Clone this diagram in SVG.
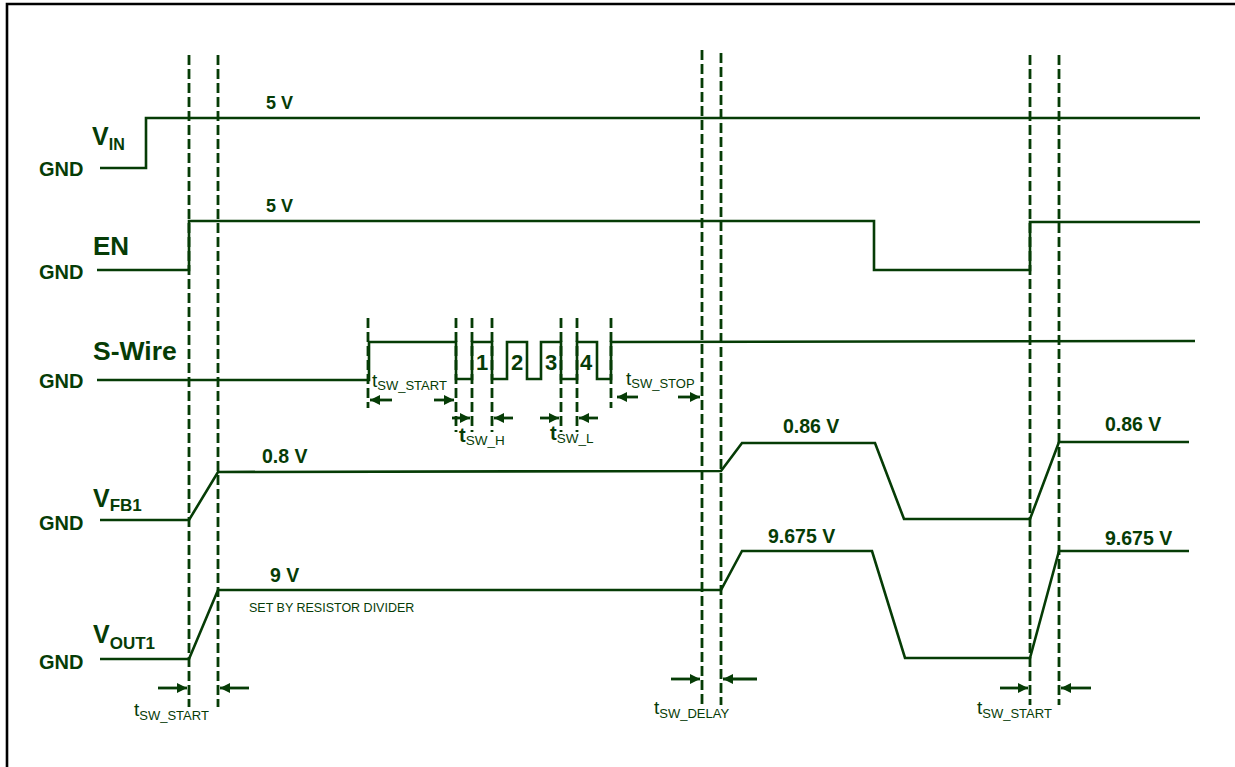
<svg xmlns="http://www.w3.org/2000/svg" width="1235" height="767" viewBox="0 0 1235 767">
<defs>
<marker id="ah" markerUnits="userSpaceOnUse" markerWidth="12" markerHeight="12" refX="10" refY="5" orient="auto">
<path d="M0,0 L10,5 L0,10 z" fill="#063c06"/>
</marker>
<style>
.sig{fill:none;stroke:#063c06;stroke-width:2.6;stroke-linejoin:miter}
.dash{fill:none;stroke:#063c06;stroke-width:2.8;stroke-dasharray:10 4}
.arr{fill:none;stroke:#063c06;stroke-width:2.8;marker-end:url(#ah)}
.lbl{font-family:"Liberation Sans",Arial,sans-serif;font-weight:bold;fill:#063c06}
.t{font-family:"Liberation Sans",Arial,sans-serif;fill:#063c06}
.gnd{font-size:20px}
.val{font-size:19.5px}
</style>
</defs>
<rect width="1235" height="767" fill="#fff"/>
<path d="M7,767 V4 H1235" fill="none" stroke="#000" stroke-width="2.6"/>

<g id="connectors">
<line class="dash" x1="189" y1="55" x2="189" y2="707"/>
<line class="dash" x1="218" y1="55" x2="218" y2="707"/>
<line class="dash" x1="702" y1="50" x2="702" y2="705"/>
<line class="dash" x1="721" y1="53" x2="721" y2="705"/>
<line class="dash" x1="1030" y1="55" x2="1030" y2="705"/>
<line class="dash" x1="1059" y1="55" x2="1059" y2="705"/>
<line class="dash" x1="368" y1="318" x2="368" y2="408"/>
<line class="dash" x1="456" y1="318" x2="456" y2="432"/>
<line class="dash" x1="472" y1="318" x2="472" y2="432"/>
<line class="dash" x1="492" y1="318" x2="492" y2="432"/>
<line class="dash" x1="561" y1="318" x2="561" y2="432"/>
<line class="dash" x1="577" y1="318" x2="577" y2="432"/>
<line class="dash" x1="611" y1="318" x2="611" y2="408"/>
<line class="arr" x1="392" y1="400" x2="370" y2="400"/>
<line class="arr" x1="434" y1="400" x2="454" y2="400"/>
<line class="arr" x1="452" y1="418" x2="470" y2="418"/>
<line class="arr" x1="513" y1="418" x2="494" y2="418"/>
<line class="arr" x1="540" y1="418" x2="559" y2="418"/>
<line class="arr" x1="598" y1="418" x2="579" y2="418"/>
<line class="arr" x1="638" y1="397" x2="617" y2="397"/>
<line class="arr" x1="678" y1="397" x2="700" y2="397"/>
<line class="arr" x1="158" y1="688" x2="187" y2="688"/>
<line class="arr" x1="249" y1="688" x2="220" y2="688"/>
<line class="arr" x1="671" y1="679" x2="700" y2="679"/>
<line class="arr" x1="757" y1="679" x2="723" y2="679"/>
<line class="arr" x1="1000" y1="688" x2="1028" y2="688"/>
<line class="arr" x1="1091" y1="688" x2="1061" y2="688"/>
</g>

<g id="vin">
<polyline class="sig" points="100,168 146,168 146,118 1200,118"/>
<text class="lbl gnd" x="39" y="176">GND</text>
<text class="lbl" x="92" y="145" font-size="25">V<tspan font-size="16" dy="5">IN</tspan></text>
<text class="lbl" x="266" y="109" font-size="18">5 V</text>
</g>

<g id="en">
<polyline class="sig" points="97,270 189,270 189,221 874,221 874,270 1030,270 1030,222 1200,222"/>
<text class="lbl gnd" x="39" y="279">GND</text>
<text class="lbl" x="93" y="255" font-size="26">EN</text>
<text class="lbl" x="266" y="212" font-size="18">5 V</text>
</g>

<g id="swire">
<polyline class="sig" points="97,380 369,380 369,342 456,342 456,379 472,379 472,342 492,342 492,379 507,379 507,342 527,342 527,379 541,379 541,342 561,342 561,379 577,379 577,342 597,342 597,379 611,379 611,342 1195,341"/>
<text class="lbl gnd" x="39" y="388">GND</text>
<text class="lbl" x="93" y="360" font-size="26.5">S-Wire</text>
<text class="lbl" x="482" y="370" font-size="22" text-anchor="middle">1</text>
<text class="lbl" x="517" y="370" font-size="22" text-anchor="middle">2</text>
<text class="lbl" x="551" y="370" font-size="22" text-anchor="middle">3</text>
<text class="lbl" x="586" y="370" font-size="22" text-anchor="middle">4</text>
<text class="t" x="372" y="387" font-size="19">t<tspan font-size="13" dy="3">SW_START</tspan></text>
<text class="t" x="459" y="442" font-size="20" font-weight="bold">t<tspan font-size="13.5" font-weight="normal" dy="3">SW_H</tspan></text>
<text class="t" x="550" y="440" font-size="20" font-weight="bold">t<tspan font-size="13.5" font-weight="normal" dy="3">SW_L</tspan></text>
<text class="t" x="626" y="385" font-size="19">t<tspan font-size="13" dy="3">SW_STOP</tspan></text>
</g>

<g id="vfb1">
<polyline class="sig" points="100,520 189,520 218,472 721,471 742,443 875,443 904,519 1030,519 1059,442 1189,442"/>
<text class="lbl gnd" x="39" y="530">GND</text>
<text class="lbl" x="93" y="507" font-size="25">V<tspan font-size="17" dy="4">FB1</tspan></text>
<text class="lbl val" x="262" y="463">0.8 V</text>
<text class="lbl val" x="783" y="433">0.86 V</text>
<text class="lbl val" x="1105" y="431">0.86 V</text>
</g>

<g id="vout1">
<polyline class="sig" points="100,659 189,659 218,590 721,590 742,551 872,551 905,658 1030,658 1059,551 1189,551"/>
<text class="lbl gnd" x="39" y="669">GND</text>
<text class="lbl" x="93" y="643" font-size="25">V<tspan font-size="17" dy="6">OUT1</tspan></text>
<text class="lbl val" x="270" y="582">9 V</text>
<text class="t" x="249" y="612" font-size="12.5">SET BY RESISTOR DIVIDER</text>
<text class="lbl val" x="768" y="543">9.675 V</text>
<text class="lbl val" x="1105" y="545">9.675 V</text>
</g>

<g id="bottom-labels">
<text class="t" x="134" y="716" font-size="19">t<tspan font-size="13" dy="4">SW_START</tspan></text>
<text class="t" x="654" y="714" font-size="19">t<tspan font-size="13" dy="4">SW_DELAY</tspan></text>
<text class="t" x="977" y="714" font-size="19">t<tspan font-size="13" dy="4">SW_START</tspan></text>
</g>
</svg>
